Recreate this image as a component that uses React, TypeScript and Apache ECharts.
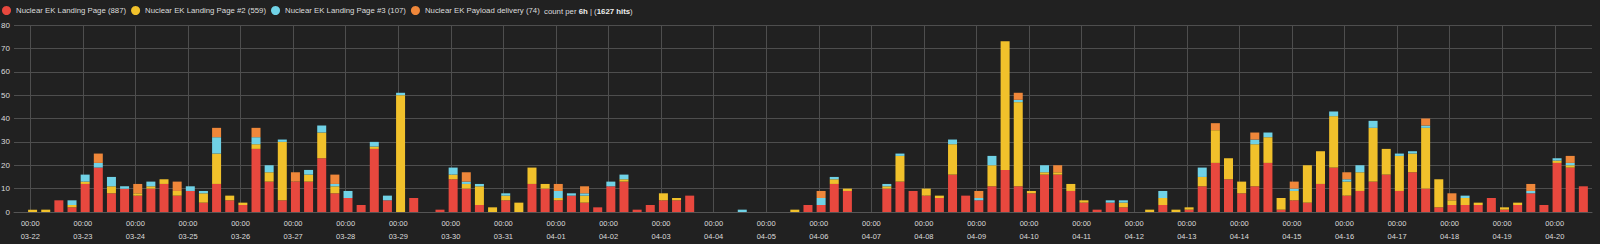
import { useEffect, useRef } from "react";
import * as echarts from "echarts";

// 6-hour bins starting 03-22 00:00
const dayLabels = [
  "03-22", "03-23", "03-24", "03-25", "03-26", "03-27", "03-28", "03-29", "03-30", "03-31",
  "04-01", "04-02", "04-03", "04-04", "04-05", "04-06", "04-07", "04-08", "04-09", "04-10",
  "04-11", "04-12", "04-13", "04-14", "04-15", "04-16", "04-17", "04-18", "04-19", "04-20",
];
const binHours = ["00:00", "06:00", "12:00", "18:00"];

const seriesNames = [
  "Nuclear EK Landing Page (887)",
  "Nuclear EK Landing Page #2 (559)",
  "Nuclear EK Landing Page #3 (107)",
  "Nuclear EK Payload delivery (74)",
];

const red = [
  0, 0, 5, 2, 12, 19, 8, 10, 7, 10,
  12, 7, 9, 4, 12, 5, 3, 27, 13, 5,
  13, 13, 23, 8, 6, 3, 27, 5, 0, 6,
  0, 1, 14, 10, 3, 0, 5, 0, 12, 10,
  5, 7, 4, 2, 11, 13, 1, 3, 5, 5,
  7, 0, 0, 0, 0, 0, 0, 0, 0, 3,
  3, 12, 9, 0, 0, 10, 13, 9, 7, 6,
  16, 7, 5, 11, 18, 11, 8, 16, 16, 9,
  4, 1, 4, 2, 0, 0, 3, 0, 1, 11,
  21, 14, 8, 11, 21, 1, 5, 4, 12, 19,
  7, 9, 13, 16, 9, 17, 10, 2, 3, 3,
  3, 6, 1, 3, 8, 3, 21, 19, 11,
];

const yellow = [
  1, 1, 0, 1, 1, 0, 3, 0, 1, 1,
  2, 2, 0, 4, 13, 2, 1, 2, 4, 25,
  0, 3, 11, 3, 0, 0, 1, 0, 50, 0,
  0, 0, 2, 2, 8, 2, 2, 4, 7, 2,
  1, 0, 3, 0, 0, 1, 0, 0, 3, 1,
  0, 0, 0, 0, 0, 0, 0, 0, 1, 0,
  0, 2, 1, 0, 0, 1, 11, 0, 3, 1,
  13, 0, 0, 9, 55, 36, 1, 1, 1, 3,
  1, 0, 0, 2, 0, 1, 3, 1, 1, 4,
  14, 9, 5, 18, 11, 5, 4, 16, 14, 22,
  6, 8, 23, 11, 15, 8, 26, 12, 2, 3,
  1, 0, 1, 1, 0, 0, 1, 1, 0,
];

const cyan = [
  0, 0, 0, 2, 3, 2, 4, 1, 0, 2,
  0, 0, 2, 1, 7, 0, 0, 3, 3, 1,
  0, 2, 3, 1, 3, 0, 2, 2, 1, 0,
  0, 0, 3, 1, 1, 0, 1, 0, 0, 0,
  3, 1, 1, 0, 2, 2, 0, 0, 0, 0,
  0, 0, 0, 0, 1, 0, 0, 0, 0, 0,
  3, 1, 0, 0, 0, 1, 1, 0, 0, 0,
  2, 0, 1, 4, 0, 1, 0, 3, 0, 0,
  0, 0, 1, 1, 0, 0, 3, 0, 0, 4,
  0, 0, 0, 2, 2, 0, 1, 0, 0, 2,
  1, 3, 3, 0, 1, 1, 1, 0, 0, 1,
  0, 0, 0, 0, 1, 0, 1, 1, 0,
];

const orange = [
  0, 0, 0, 0, 0, 4, 0, 0, 4, 0,
  0, 4, 0, 0, 4, 0, 0, 4, 0, 0,
  4, 0, 0, 4, 0, 0, 0, 0, 0, 0,
  0, 0, 0, 4, 0, 0, 0, 0, 0, 0,
  3, 0, 3, 0, 0, 0, 0, 0, 0, 0,
  0, 0, 0, 0, 0, 0, 0, 0, 0, 0,
  3, 0, 0, 0, 0, 0, 0, 0, 0, 0,
  0, 0, 3, 0, 0, 3, 0, 0, 3, 0,
  0, 0, 0, 0, 0, 0, 0, 0, 0, 0,
  3, 0, 0, 3, 0, 0, 3, 0, 0, 0,
  3, 0, 0, 0, 0, 0, 3, 0, 3, 0,
  0, 0, 0, 0, 3, 0, 0, 3, 0,
];

const yTicks = [0, 10, 20, 30, 40, 50, 60, 70, 80];

const colors = ["#E8483E", "#F1C12B", "#70D2E6", "#EF873A"];
const FONT = "'Liberation Sans', Arial, sans-serif";
const TEXT = "#dcdcdc";

// layout (pixels): value grid for gridlines/labels, category grid for bars
const G_LEFT = 14;
const G_RIGHT = 8;
const G_TOP = 25;
const G_BOTTOM = 32;
const X_MIN_H = -7.44;
const X_MAX_H = 713;
const BAR_OFFSET_H = 1.05;

export default function App() {
  const ref = useRef<HTMLDivElement>(null);
  useEffect(() => {
    document.body.style.margin = "0";
    document.body.style.background = "#212121";
    const chart = echarts.init(ref.current!, undefined, { renderer: "svg" });
    const all = [red, yellow, cyan, orange];
    const n = red.length;
    const categories = Array.from({ length: n }, (_, i) => `${dayLabels[Math.floor(i / 4)]} ${binHours[i % 4]}`);
    const dayHours = dayLabels.map((_, i) => i * 24);

    const plotW = 1600 - G_LEFT - G_RIGHT;
    const pxPerH = plotW / (X_MAX_H - X_MIN_H);
    const band = 6 * pxPerH;
    const barLeft = G_LEFT + (BAR_OFFSET_H - X_MIN_H) * pxPerH - band / 2;
    const barRight = 1600 - barLeft - band * n;

    chart.setOption({
      animation: false,
      backgroundColor: "#212121",
      color: colors,
      legend: {
        left: 2,
        top: 6,
        padding: 0,
        icon: "circle",
        itemWidth: 9,
        itemHeight: 9,
        itemGap: 5,
        selectedMode: false,
        textStyle: { color: TEXT, fontSize: 7.8, fontFamily: FONT },
        data: seriesNames,
      },
      graphic: [
        {
          type: "text",
          left: 544,
          top: 7,
          style: {
            text: "count per {b|6h} | ({b|1627 hits})",
            fill: TEXT,
            fontSize: 7.8,
            fontFamily: FONT,
            rich: {
              b: { fontWeight: "bold", fontSize: 7.8, fontFamily: FONT, fill: "#eeeeee" },
            },
          },
        },
      ],
      grid: [
        { left: G_LEFT, right: G_RIGHT, top: G_TOP, bottom: G_BOTTOM, containLabel: false, outerBoundsMode: "none" },
        { left: barLeft, right: barRight, top: G_TOP, bottom: G_BOTTOM, containLabel: false, outerBoundsMode: "none" },
      ],
      xAxis: [
        {
          type: "value",
          gridIndex: 0,
          min: X_MIN_H,
          max: X_MAX_H,
          axisLine: { show: true, onZero: false, lineStyle: { color: "#555555" } },
          axisTick: { show: false, customValues: dayHours },
          splitLine: { show: true, lineStyle: { color: "#4e4e4e", width: 1 } },
          axisLabel: {
            customValues: dayHours,
            color: TEXT,
            fontSize: 7.5,
            fontFamily: FONT,
            lineHeight: 13,
            margin: 5,
            formatter: (v: number) => `00:00\n${dayLabels[Math.round(v / 24)] ?? ""}`,
          },
        },
        {
          type: "category",
          gridIndex: 1,
          data: categories,
          show: false,
        },
      ],
      yAxis: [
        {
          type: "value",
          gridIndex: 0,
          min: yTicks[0],
          max: yTicks[yTicks.length - 1],
          interval: 10,
          axisLine: { show: false },
          axisTick: { show: false },
          splitLine: { show: true, lineStyle: { color: "#4e4e4e", width: 1 } },
          axisLabel: { color: TEXT, fontSize: 8, fontFamily: FONT, margin: 4 },
        },
        {
          type: "value",
          gridIndex: 1,
          min: yTicks[0],
          max: yTicks[yTicks.length - 1],
          show: false,
          splitLine: { show: false },
        },
      ],
      series: seriesNames.map((name, s) => ({
        name,
        type: "bar",
        stack: "total",
        xAxisIndex: 1,
        yAxisIndex: 1,
        barWidth: 9,
        itemStyle: { color: colors[s] },
        data: all[s],
      })),
    });
    return () => chart.dispose();
  }, []);
  return <div ref={ref} style={{ width: 1600, height: 244 }} />;
}
